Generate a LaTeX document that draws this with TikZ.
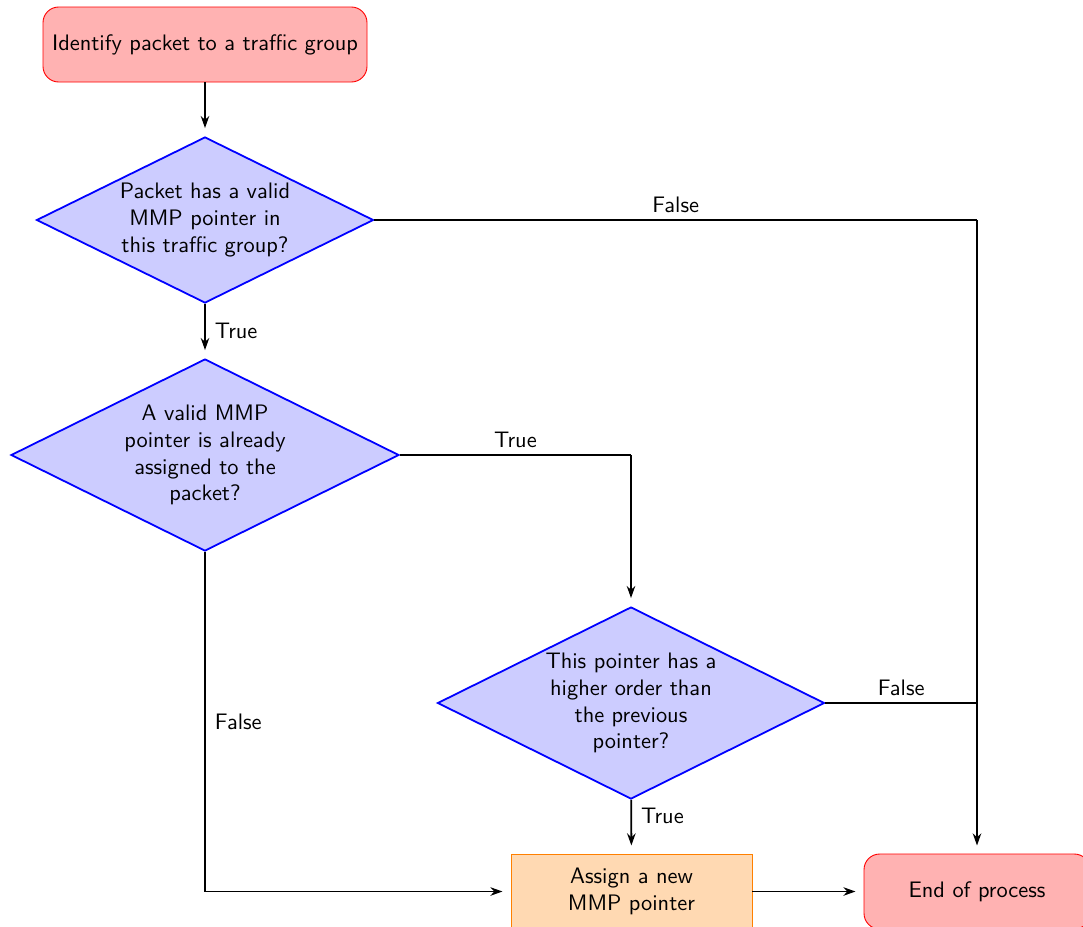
\documentclass[tikz,border=0pt]{standalone}
\usetikzlibrary{shapes.geometric,arrows.meta}
\renewcommand{\familydefault}{\sfdefault}
\def\pxu{0.4464pt}
\tikzset{
  x=0.4464pt, y=-0.4464pt,
  startstop/.style={rectangle, rounded corners=7pt, draw=red, fill=red!30, text=black, align=center, inner sep=0pt},
  decision/.style={diamond, aspect=2, draw=blue, thick, fill=blue!20, align=center, inner sep=0pt},
  process/.style={rectangle, draw=orange, fill=orange!30, align=center, inner sep=0pt},
  arr/.style={thick, -{Stealth[length=5.4pt,width=3.8pt]}, shorten >=3.6pt},
  ln/.style={thick},
  lbl/.style={font=\normalsize, inner sep=4pt}
}
\begin{document}
\begin{tikzpicture}
\useasboundingbox (0,0) rectangle (1083,926);
\node[startstop, minimum width=324*\pxu, minimum height=75*\pxu] (start) at (205,44.5) {Identify packet to a traffic group};
\node[decision, minimum width=337*\pxu, minimum height=166*\pxu] (d1) at (205,220) {Packet has a valid\\MMP pointer in\\this traffic group?};
\node[decision, minimum width=388*\pxu, minimum height=192*\pxu] (d2) at (205,455) {A valid MMP\\pointer is already\\assigned to the\\packet?};
\node[decision, minimum width=387*\pxu, minimum height=192*\pxu] (d3) at (631,703) {This pointer has a\\higher order than\\the previous\\pointer?};
\node[process, minimum width=241*\pxu, minimum height=75*\pxu] (assign) at (631.5,891.5) {Assign a new\\MMP pointer};
\node[startstop, minimum width=226*\pxu, minimum height=75*\pxu] (end) at (977,891.5) {End of process};
\coordinate (c1) at (977,220);
\coordinate (c2) at (631,455);
\coordinate (c3) at (977,703);
\coordinate (c4) at (205,891.5);

\draw[arr] (start) -- (d1);
\draw[arr] (d1) -- node[lbl, right] {True} (d2);
\draw[ln] (d1.east) -- node[lbl, above, inner sep=3pt] {False} (c1);
\draw[arr] (c1) -- (end);
\draw[ln] (d2.east) -- node[lbl, above, inner sep=3pt] {True} (c2);
\draw[arr] (c2) -- (d3);
\draw[ln] (d3.east) -- node[lbl, above, inner sep=3pt] {False} (c3);
\draw[arr] (d3) -- node[lbl, right, pos=0.3] {True} (assign);
\draw[ln] (d2.south) -- node[lbl, right] {False} (c4);
\draw[arr] (c4) -- (assign);
\draw[arr] (assign) -- (end);
\end{tikzpicture}
\end{document}
